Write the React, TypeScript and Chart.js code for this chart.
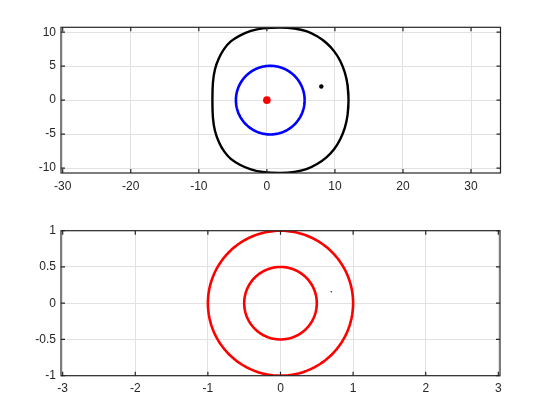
import React, { useEffect, useRef } from "react";
import { Chart, registerables } from "chart.js";

Chart.register(...registerables);

// ---------- data ----------
const topXTicks = [-30, -20, -10, 0, 10, 20, 30];
const topYTicks = [-10, -5, 0, 5, 10];
const topXRange = [-30.25, 34.33];
const topYRange = [-10.72, 10.72];

const botXTicks = [-3, -2, -1, 0, 1, 2, 3];
const botYTicks = [-1, -0.5, 0, 0.5, 1];
const botXRange = [-3.023, 3.023];
const botYRange = [-1, 1];

// black closed boundary curve (top panel) (upper half, right to left)
const boundaryUpperX = [12.0, 11.86, 11.46, 10.8, 9.9, 8.75, 7.38, 5.8, 4.05, 2.0, -0.6, -2.35, -3.9, -5.3, -6.3, -7.05, -7.62, -7.92, -8.0];
const boundaryUpperY = [0, 2.18, 4.05, 5.72, 7.18, 8.41, 9.39, 10.15, 10.55, 10.7, 10.57, 10.18, 9.54, 8.65, 7.51, 6.15, 4.54, 2.64, 0];

// blue circle (top panel): centre and radius
const blueCenter = [0.5, 0];
const blueRadius = 5.05;
// red dot and black dot (top panel)
const redDot = [0, 0];
const blackDot = [8, 2];

// bottom panel: two red circles centred at origin, tiny point
const botCenter = [0, 0];
const botRadii = [1, 0.5];
const botDot = [0.7, 0.157];

// ---------- helpers ----------
function circlePoints(cx: number, cy: number, r: number) {
  const pts: { x: number; y: number }[] = [];
  const n = 120;
  for (let i = 0; i <= n; i++) {
    const t = (i / n) * Math.PI * 2;
    pts.push({ x: cx + r * Math.cos(t), y: cy + r * Math.sin(t) });
  }
  return pts;
}

const TEXT = "#262626";
const GRID = "#e2e2e2";
const FONT = { family: "'Liberation Sans', Arial, Helvetica, sans-serif", size: 12 };

const boxPlugin = {
  id: "matlabBox",
  afterDatasetsDraw(chart: any) {
    const { ctx, chartArea } = chart;
    const { left, right, top, bottom } = chartArea;
    const xs = chart.scales.x;
    const ys = chart.scales.y;
    ctx.save();
    ctx.strokeStyle = TEXT;
    ctx.lineWidth = 1.2;
    ctx.strokeRect(left, top, right - left, bottom - top);
    const tl = 4;
    ctx.beginPath();
    xs.ticks.forEach((t: any) => {
      const px = xs.getPixelForValue(t.value);
      ctx.moveTo(px, bottom);
      ctx.lineTo(px, bottom - tl);
      ctx.moveTo(px, top);
      ctx.lineTo(px, top + tl);
    });
    ys.ticks.forEach((t: any) => {
      const py = ys.getPixelForValue(t.value);
      ctx.moveTo(left, py);
      ctx.lineTo(left + tl, py);
      ctx.moveTo(right, py);
      ctx.lineTo(right - tl, py);
    });
    ctx.stroke();
    ctx.restore();
  },
};

function makeScales(xTicks: number[], yTicks: number[], xr: number[], yr: number[], xAxisH: number) {
  return {
    x: {
      type: "linear" as const,
      min: xr[0],
      max: xr[1],
      afterBuildTicks: (s: any) => {
        s.ticks = xTicks.map((v) => ({ value: v }));
      },
      afterFit: (s: any) => {
        s.height = xAxisH;
      },
      grid: { color: GRID, lineWidth: 1, drawTicks: false },
      border: { display: false },
      ticks: {
        color: TEXT,
        font: FONT,
        padding: 6,
        maxRotation: 0,
        autoSkip: false,
        callback: (v: any) => String(v),
      },
    },
    y: {
      type: "linear" as const,
      min: yr[0],
      max: yr[1],
      afterBuildTicks: (s: any) => {
        s.ticks = yTicks.map((v) => ({ value: v }));
      },
      afterFit: (s: any) => {
        s.width = 61;
      },
      grid: { color: GRID, lineWidth: 1, drawTicks: false },
      border: { display: false },
      ticks: {
        color: TEXT,
        font: FONT,
        padding: 5,
        autoSkip: false,
        callback: (v: any) => String(v),
      },
    },
  };
}

function TopPlot() {
  const ref = useRef<HTMLCanvasElement>(null);
  useEffect(() => {
    const upper = boundaryUpperX.map((x, i) => ({ x, y: boundaryUpperY[i] }));
    // lower half mirrors the upper half (curve is symmetric about y = 0)
    const lower = upper
      .slice(0, -1)
      .reverse()
      .map((p) => ({ x: p.x, y: -p.y }));
    const pts = [...upper, ...lower];
    // wrap one point on each side so the closed curve is smooth at the seam
    const boundary = [pts[pts.length - 2], ...pts, pts[1]];
    const chart = new Chart(ref.current as HTMLCanvasElement, {
      type: "scatter",
      data: {
        datasets: [
          {
            data: boundary,
            showLine: true,
            borderColor: "#000000",
            borderWidth: 2.4,
            tension: 0.4,
            pointRadius: 0,
          },
          {
            data: circlePoints(blueCenter[0], blueCenter[1], blueRadius),
            showLine: true,
            borderColor: "#0000ff",
            borderWidth: 2.6,
            tension: 0.01,
            pointRadius: 0,
          },
          {
            data: [{ x: redDot[0], y: redDot[1] }],
            pointRadius: 3.8,
            pointBackgroundColor: "#ff0000",
            pointBorderColor: "#ff0000",
            pointBorderWidth: 0,
          },
          {
            data: [{ x: blackDot[0], y: blackDot[1] }],
            pointRadius: 2.2,
            pointBackgroundColor: "#000000",
            pointBorderColor: "#000000",
            pointBorderWidth: 0,
          },
        ],
      },
      options: {
        responsive: false,
        animation: false,
        devicePixelRatio: 1,
        layout: { padding: { left: 0, right: 58.5, top: 27.3, bottom: 5 } },
        plugins: { legend: { display: false }, tooltip: { enabled: false } },
        scales: makeScales(topXTicks, topYTicks, topXRange, topYRange, 22),
      },
      plugins: [boxPlugin],
    });
    return () => chart.destroy();
  }, []);
  return (
    <canvas
      ref={ref}
      width={559}
      height={200}
      style={{ position: "absolute", left: 0, top: 0, width: 559, height: 200 }}
    />
  );
}

function BottomPlot() {
  const ref = useRef<HTMLCanvasElement>(null);
  useEffect(() => {
    const chart = new Chart(ref.current as HTMLCanvasElement, {
      type: "scatter",
      data: {
        datasets: [
          ...botRadii.map((r) => ({
            data: circlePoints(botCenter[0], botCenter[1], r),
            showLine: true,
            borderColor: "#ff0000",
            borderWidth: 2.6,
            tension: 0.01,
            pointRadius: 0,
          })),
          {
            data: [{ x: botDot[0], y: botDot[1] }],
            pointRadius: 0.8,
            pointBackgroundColor: "#333333",
            pointBorderColor: "#333333",
            pointBorderWidth: 0,
          },
        ],
      },
      options: {
        responsive: false,
        animation: false,
        devicePixelRatio: 1,
        layout: { padding: { left: 0, right: 59, top: 30.7, bottom: 13.3 } },
        plugins: { legend: { display: false }, tooltip: { enabled: false } },
        scales: makeScales(botXTicks, botYTicks, botXRange, botYRange, 22),
      },
      plugins: [boxPlugin],
    });
    return () => chart.destroy();
  }, []);
  return (
    <canvas
      ref={ref}
      width={559}
      height={211}
      style={{ position: "absolute", left: 0, top: 200, width: 559, height: 211 }}
    />
  );
}

export default function App() {
  return (
    <div
      style={{
        position: "fixed",
        left: 0,
        top: 0,
        width: 559,
        height: 411,
        background: "#ffffff",
        overflow: "hidden",
      }}
    >
      <TopPlot />
      <BottomPlot />
    </div>
  );
}
